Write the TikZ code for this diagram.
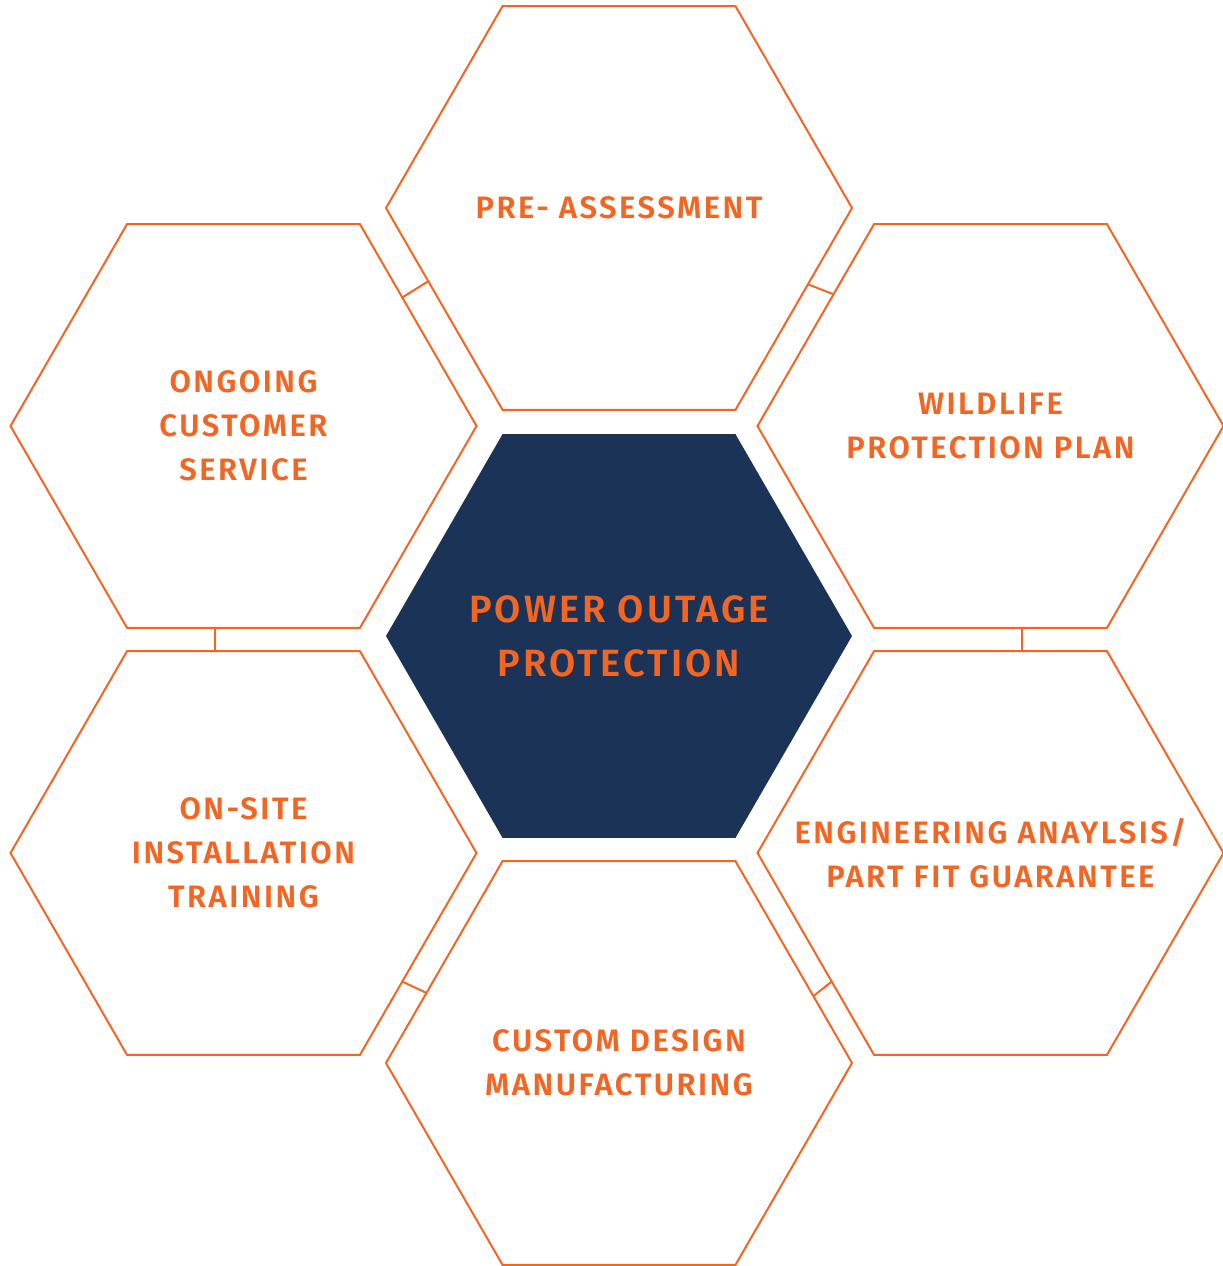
\documentclass[tikz,border=0pt]{standalone}
\usepackage{fontspec}
\setmainfont{Fira Sans}[BoldFont={Fira Sans SemiBold}, LetterSpace=8]
\usetikzlibrary{shapes.geometric}
\definecolor{hexorange}{HTML}{F26522}
\definecolor{hexnavy}{HTML}{1B3356}
\tikzset{
  hexcell/.style={regular polygon, regular polygon sides=6, minimum size=466pt,
    inner sep=0pt, outer sep=0pt, draw=hexorange, line width=2pt},
  hexcore/.style={hexcell, fill=hexnavy, draw=none},
  hextext/.style={align=center, text=hexorange, inner sep=0pt,
    font=\fontsize{31}{44}\selectfont\bfseries},
  coretext/.style={hextext, font=\fontsize{38}{54}\selectfont\bfseries},
  hexlink/.style={draw=hexorange, line width=2pt}
}
\begin{document}
\begin{tikzpicture}[x=1pt, y=-1pt]
		%Rahmen
		\useasboundingbox (0,0) rectangle (1223,1266);

		%Mitte
		\node[hexcore, label={[coretext]center:POWER OUTAGE\\PROTECTION}] (core) at (619,636) {};

		%Waben rundherum
		\node[hexcell, label={[hextext]center:PRE- ASSESSMENT}] (pre) at (619,208) {};
		\node[hexcell, label={[hextext]center:WILDLIFE\\PROTECTION PLAN}] (wild) at (990.5,426) {};
		\node[hexcell, label={[hextext]center:ENGINEERING ANAYLSIS/\\PART FIT GUARANTEE}] (eng) at (990.5,853) {};
		\node[hexcell, label={[hextext]center:CUSTOM DESIGN\\MANUFACTURING}] (cust) at (619,1063) {};
		\node[hexcell, label={[hextext]center:ON-SITE\\INSTALLATION\\TRAINING}] (site) at (243.5,853) {};
		\node[hexcell, label={[hextext]center:ONGOING\\CUSTOMER\\SERVICE}] (serv) at (243.5,426) {};

		%Verbindungen
		\draw[hexlink] (serv.39)    -- (pre.201.5);
		\draw[hexlink] (pre.338.6)  -- (wild.140);
		\draw[hexlink] (wild.279.4) -- (wild.279.4 |- eng.north);
		\draw[hexlink] (eng.219.5)  -- (cust.19.8);
		\draw[hexlink] (site.321)   -- (cust.160.2);
		\draw[hexlink] (serv.262.25) -- (serv.262.25 |- site.north);
\end{tikzpicture}
\end{document}
